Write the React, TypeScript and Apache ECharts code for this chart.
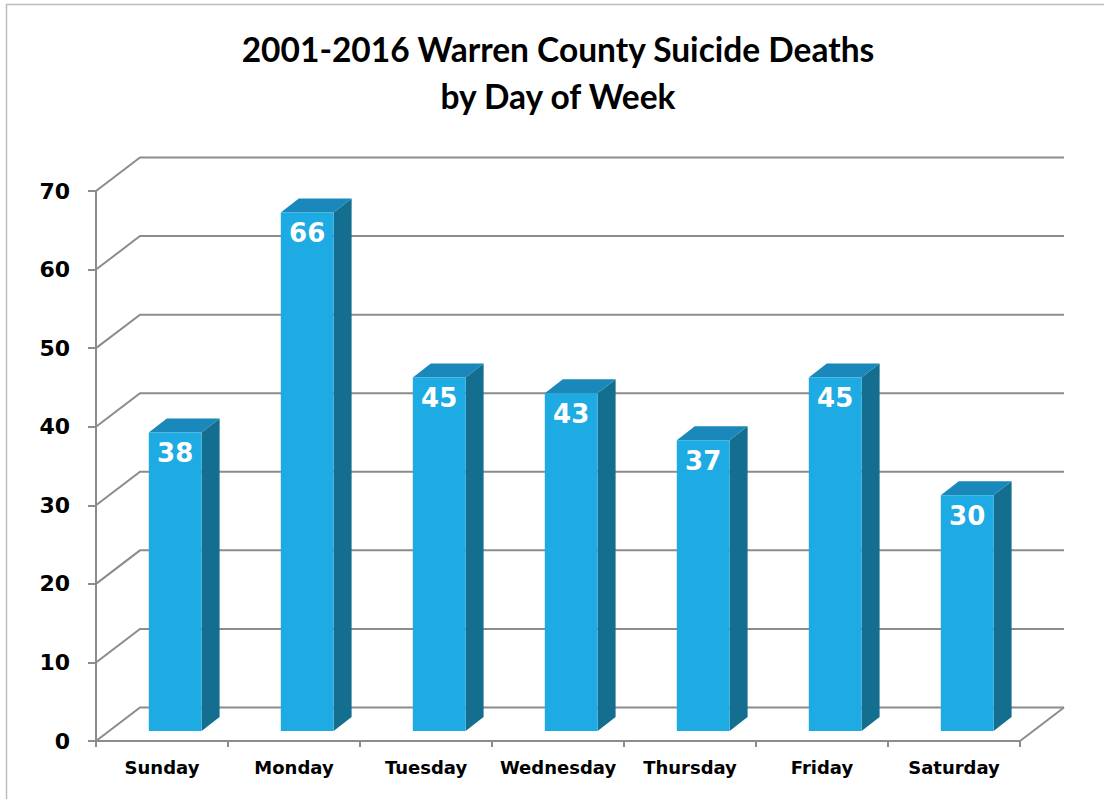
import React, { useEffect, useRef } from "react";
import * as echarts from "echarts";

const TITLE_LINE1 = "2001-2016 Warren County Suicide Deaths";
const TITLE_LINE2 = "by Day of Week";
const categories = ["Sunday", "Monday", "Tuesday", "Wednesday", "Thursday", "Friday", "Saturday"];
const deaths = [38, 66, 45, 43, 37, 45, 30];
const yTicks = [0, 10, 20, 30, 40, 50, 60, 70];

// 3D projection constants (pixels)
const WALL_DX = 44;
const WALL_DY = -33.5;
const BAR_OX = 13.2;
const BAR_OY = -10;
const BAR_DX = 18;
const BAR_DY = -14;

const FRONT = "#1eaae2";
const SIDE = "#146e8f";
const TOP = "#1a88ba";
const GRID = "#8c8c8c";

export default function App() {
  const ref = useRef<HTMLDivElement>(null);
  useEffect(() => {
    document.body.style.margin = "0";
    const chart = echarts.init(ref.current!, null, { renderer: "svg" });
    const option: any = {
      animation: false,
      backgroundColor: "#ffffff",
      graphic: [
        {
          type: "rect",
          shape: { x: 6.5, y: 4.5, width: 1200, height: 1000 },
          style: { fill: "none", stroke: "#bdbdbd", lineWidth: 1.5 },
          silent: true,
        },
        {
          type: "text",
          x: 558,
          y: 49,
          style: {
            text: TITLE_LINE1,
            font: "bold 33.5px Lato",
            fill: "#000",
            textAlign: "center",
            textVerticalAlign: "middle",
          },
        },
        {
          type: "text",
          x: 558,
          y: 96,
          style: {
            text: TITLE_LINE2,
            font: "bold 33.5px Lato",
            fill: "#000",
            textAlign: "center",
            textVerticalAlign: "middle",
          },
        },
      ],
      grid: { left: 96, right: 84, top: 191, bottom: 58, containLabel: false },
      xAxis: {
        type: "category",
        data: categories,
        axisLine: { show: true, lineStyle: { color: GRID, width: 2 } },
        axisTick: { show: true, interval: 0, length: 6, lineStyle: { color: GRID, width: 2 } },
        axisLabel: {
          interval: 0,
          margin: 17,
          color: "#000",
          fontFamily: "DejaVu Sans",
          fontWeight: "bold",
          fontSize: 18,
        },
        splitLine: { show: false },
      },
      yAxis: {
        type: "value",
        min: 0,
        max: 70,
        interval: 10,
        axisLine: { show: true, lineStyle: { color: GRID, width: 2 } },
        axisTick: { show: true, length: 8, lineStyle: { color: GRID, width: 2 } },
        axisLabel: {
          margin: 26,
          color: "#000",
          fontFamily: "DejaVu Sans",
          fontWeight: "bold",
          fontSize: 22,
        },
        splitLine: { show: false },
      },
      series: [
        {
          type: "custom",
          z: 1,
          silent: true,
          data: [0],
          renderItem: (params: any, api: any) => {
            const cs = params.coordSys;
            const x0 = cs.x;
            const x1 = cs.x + cs.width;
            const children: any[] = [];
            yTicks.forEach((v) => {
              const yf = api.coord([0, v])[1];
              children.push({
                type: "polyline",
                shape: {
                  points: [
                    [x0, yf],
                    [x0 + WALL_DX, yf + WALL_DY],
                    [x1 + WALL_DX, yf + WALL_DY],
                  ],
                },
                style: { fill: "none", stroke: GRID, lineWidth: 2 },
              });
            });
            const yb = api.coord([0, 0])[1];
            children.push({
              type: "line",
              shape: { x1: x1, y1: yb, x2: x1 + WALL_DX, y2: yb + WALL_DY },
              style: { stroke: GRID, lineWidth: 2 },
            });
            return { type: "group", children };
          },
        },
        {
          type: "custom",
          z: 2,
          data: deaths.map((v, i) => [i, v]),
          encode: { x: 0, y: 1 },
          renderItem: (params: any, api: any) => {
            const idx = api.value(0);
            const val = api.value(1);
            const top = api.coord([idx, val]);
            const base = api.coord([idx, 0]);
            const w = api.size([1, 0])[0] * 0.4;
            const xl = top[0] - w / 2 + BAR_OX;
            const xr = top[0] + w / 2 + BAR_OX;
            const yt = top[1] + BAR_OY;
            const yb = base[1] + BAR_OY;
            return {
              type: "group",
              children: [
                {
                  type: "polygon",
                  shape: {
                    points: [
                      [xr, yt],
                      [xr + BAR_DX, yt + BAR_DY],
                      [xr + BAR_DX, yb + BAR_DY],
                      [xr, yb],
                    ],
                  },
                  style: { fill: SIDE },
                },
                {
                  type: "polygon",
                  shape: {
                    points: [
                      [xl, yt],
                      [xl + BAR_DX, yt + BAR_DY],
                      [xr + BAR_DX, yt + BAR_DY],
                      [xr, yt],
                    ],
                  },
                  style: { fill: TOP },
                },
                {
                  type: "rect",
                  shape: { x: xl, y: yt, width: xr - xl, height: yb - yt },
                  style: { fill: FRONT },
                },
                {
                  type: "text",
                  x: (xl + xr) / 2,
                  y: yt + 21,
                  style: {
                    text: String(val),
                    fill: "#fff",
                    font: "bold 26px 'DejaVu Sans'",
                    textAlign: "center",
                    textVerticalAlign: "middle",
                  },
                },
              ],
            };
          },
        },
      ],
    };
    chart.setOption(option);
    return () => chart.dispose();
  }, []);
  return (
    <div
      ref={ref}
      style={{ position: "fixed", left: 0, top: 0, width: 1104, height: 799 }}
    />
  );
}
